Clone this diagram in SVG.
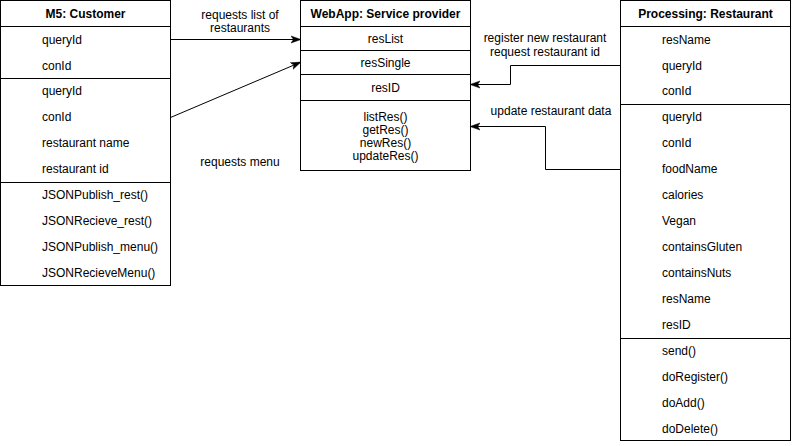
<svg xmlns="http://www.w3.org/2000/svg" width="792" height="446" viewBox="0 0 792 446">
<defs>
<style>
.box{fill:#fff;stroke:#000;stroke-width:1}
.ln{stroke:#000;stroke-width:1;fill:none}
text{font-family:"Liberation Sans",Arial,sans-serif;font-size:12px;fill:#000}
.h{font-weight:bold;text-anchor:middle}
.c{text-anchor:middle}
.conn{stroke:#000;stroke-width:1;fill:none;marker-end:url(#arr)}
</style>
<marker id="arr" viewBox="0 0 10 10" refX="9" refY="5" markerWidth="10" markerHeight="10" markerUnits="userSpaceOnUse" orient="auto">
<path d="M0,1.5 L10,5 L0,8.5 L2.5,5 Z" fill="#000" stroke="#000" stroke-width="0.5"/>
</marker>
</defs>
<rect width="792" height="446" fill="#fff"/>

<g id="customer">
<rect class="box" x="0.5" y="0.5" width="170" height="285"/>
<line class="ln" x1="0.5" y1="26.5" x2="170.5" y2="26.5"/>
<line class="ln" x1="0.5" y1="78.5" x2="170.5" y2="78.5"/>
<line class="ln" x1="0.5" y1="182.5" x2="170.5" y2="182.5"/>
<text class="h" x="85.5" y="18">M5: Customer</text>
<text x="42" y="44">queryId</text>
<text x="42" y="70">conId</text>
<text x="42" y="95">queryId</text>
<text x="42" y="121">conId</text>
<text x="42" y="147">restaurant name</text>
<text x="42" y="173">restaurant id</text>
<text x="42" y="199">JSONPublish_rest()</text>
<text x="42" y="225">JSONRecieve_rest()</text>
<text x="42" y="251">JSONPublish_menu()</text>
<text x="42" y="277">JSONRecieveMenu()</text>
</g>

<g id="webapp">
<rect class="box" x="300.5" y="0.5" width="170" height="170"/>
<line class="ln" x1="300.5" y1="26.5" x2="470.5" y2="26.5"/>
<line class="ln" x1="300.5" y1="50.5" x2="470.5" y2="50.5"/>
<line class="ln" x1="300.5" y1="74.5" x2="470.5" y2="74.5"/>
<line class="ln" x1="300.5" y1="100.5" x2="470.5" y2="100.5"/>
<text class="h" x="385.5" y="18">WebApp: Service provider</text>
<text class="c" x="385.5" y="42.5">resList</text>
<text class="c" x="385.5" y="66.5">resSingle</text>
<text class="c" x="385.5" y="92">resID</text>
<text class="c" x="385.5" y="120.5">listRes()</text>
<text class="c" x="385.5" y="133.5">getRes()</text>
<text class="c" x="385.5" y="146.5">newRes()</text>
<text class="c" x="385.5" y="159.5">updateRes()</text>
</g>

<g id="restaurant">
<rect class="box" x="620.5" y="0.5" width="170" height="440"/>
<line class="ln" x1="620.5" y1="26.5" x2="790.5" y2="26.5"/>
<line class="ln" x1="620.5" y1="104.5" x2="790.5" y2="104.5"/>
<line class="ln" x1="620.5" y1="338.5" x2="790.5" y2="338.5"/>
<text class="h" x="705.5" y="18">Processing: Restaurant</text>
<text x="662" y="44">resName</text>
<text x="662" y="70">queryId</text>
<text x="662" y="95">conId</text>
<text x="662" y="121">queryId</text>
<text x="662" y="147">conId</text>
<text x="662" y="173">foodName</text>
<text x="662" y="199">calories</text>
<text x="662" y="225">Vegan</text>
<text x="662" y="251">containsGluten</text>
<text x="662" y="277">containsNuts</text>
<text x="662" y="303">resName</text>
<text x="662" y="329">resID</text>
<text x="662" y="355">send()</text>
<text x="662" y="381">doRegister()</text>
<text x="662" y="407">doAdd()</text>
<text x="662" y="433">doDelete()</text>
</g>

<g id="connectors">
<path class="conn" d="M170.5,39.5 L300,39.5"/>
<path class="conn" d="M170.5,117.5 L300,62.5"/>
<path class="conn" d="M620.5,65.5 L510.5,65.5 L510.5,84.5 L471,84.5"/>
<path class="conn" d="M620.5,169.5 L545.5,169.5 L545.5,126.5 L471,126.5"/>
<text class="c" x="240" y="18.5">requests list of</text>
<text class="c" x="240" y="31.5">restaurants</text>
<text class="c" x="240" y="165.5">requests menu</text>
<text class="c" x="545" y="42">register new restaurant</text>
<text class="c" x="545" y="56">request restaurant id</text>
<text class="c" x="551" y="115">update restaurant data</text>
</g>
</svg>
